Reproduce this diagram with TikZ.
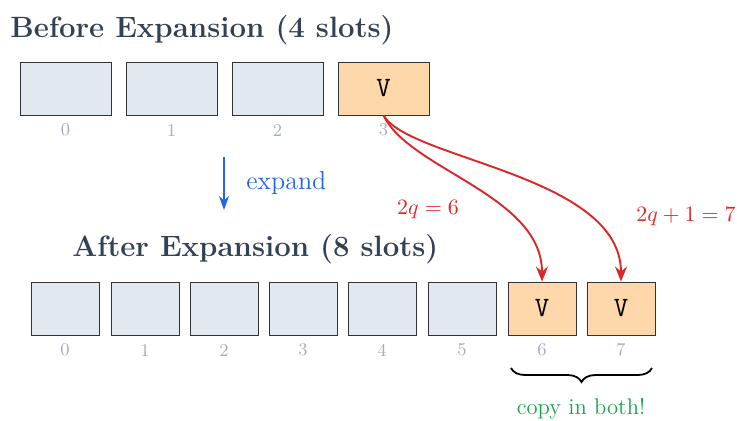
\documentclass[tikz,border=0pt]{standalone}
\usetikzlibrary{arrows.meta,decorations.pathreplacing}
\definecolor{slotfill}{HTML}{E2E8F0}
\definecolor{hotfill}{HTML}{FED7AA}
\definecolor{idxcol}{HTML}{A0AEC0}
\definecolor{titlecol}{HTML}{334155}
\definecolor{redcol}{HTML}{DC2626}
\definecolor{bluecol}{HTML}{2563EB}
\definecolor{greencol}{HTML}{16A34A}
\begin{document}
\begin{tikzpicture}[x=0.5pt,y=-0.5pt,
  slotbig/.style={draw=black!80,line width=0.45pt,fill=slotfill,minimum width=45.5pt,minimum height=26.5pt,inner sep=0pt},
  slotsmall/.style={draw=black!80,line width=0.45pt,fill=slotfill,minimum width=34pt,minimum height=26.5pt,inner sep=0pt},
  hot/.style={fill=hotfill,font=\ttfamily\fontsize{14}{16}\selectfont},
  idx/.style={text=idxcol,font=\fontsize{9}{10}\selectfont,inner sep=0pt},
  ttl/.style={text=titlecol,font=\bfseries\fontsize{14.7}{17}\selectfont,inner sep=0pt,anchor=base west},
  copyarrow/.style={draw=redcol,line width=0.95pt,-{Stealth[length=7.5pt,width=6pt,inset=2.5pt]}},
  redlbl/.style={text=redcol,font=\fontsize{11.3}{13}\selectfont,inner sep=0pt}
]
\useasboundingbox (0,0) rectangle (737,420);
% titles
\node[ttl] (title1) at (10,37) {Before Expansion (4 slots)};
\node[ttl] (title2) at (72,256) {After Expansion (8 slots)};
% top slots
\foreach \i/\x in {0/65.5,1/171.5,2/277.5}{
  \node[slotbig] (t\i) at (\x,88.5) {};
  \node[idx] (ti\i) at (\x,130) {\i};
}
\node[slotbig,hot] (t3) at (383.5,88.5) {V};
\node[idx] (ti3) at (383.5,130) {3};
% bottom slots
\foreach \i/\x in {0/65,1/145,2/224,3/303,4/382,5/462}{
  \node[slotsmall] (b\i) at (\x,308.5) {};
  \node[idx] (bi\i) at (\x,350) {\i};
}
\node[slotsmall,hot] (b6) at (542,308.5) {V};
\node[idx] (bi6) at (542,350) {6};
\node[slotsmall,hot] (b7) at (621,308.5) {V};
\node[idx] (bi7) at (621,350) {7};
% expand arrow
\coordinate (ea) at (224,157);
\coordinate (eb) at (224,210);
\draw[draw=bluecol,line width=1.1pt,-{Stealth[length=7pt,width=5pt]}] (ea) -- (eb);
\node[text=bluecol,font=\fontsize{13}{15}\selectfont,anchor=west,inner sep=0pt] (explbl) at (246,183) {expand};
% copy arrows
\draw[copyarrow] (t3.south) .. controls (410,170) and (542,195) .. (b6.north);
\draw[copyarrow] (t3.south) .. controls (410,160) and (621,175) .. (b7.north);
\node[redlbl] (l6) at (428,210) {$2q=6$};
\node[redlbl] (l7) at (686,217) {$2q+1=7$};
% brace
\coordinate (br1) at (511,368);
\coordinate (br2) at (652,368);
\draw[line width=0.9pt,decorate,decoration={brace,mirror,amplitude=7pt}] (br1) -- (br2);
\node[text=greencol,font=\fontsize{11.3}{13}\selectfont,inner sep=0pt] (copylbl) at (581,409) {copy in both!};
\end{tikzpicture}
\end{document}
